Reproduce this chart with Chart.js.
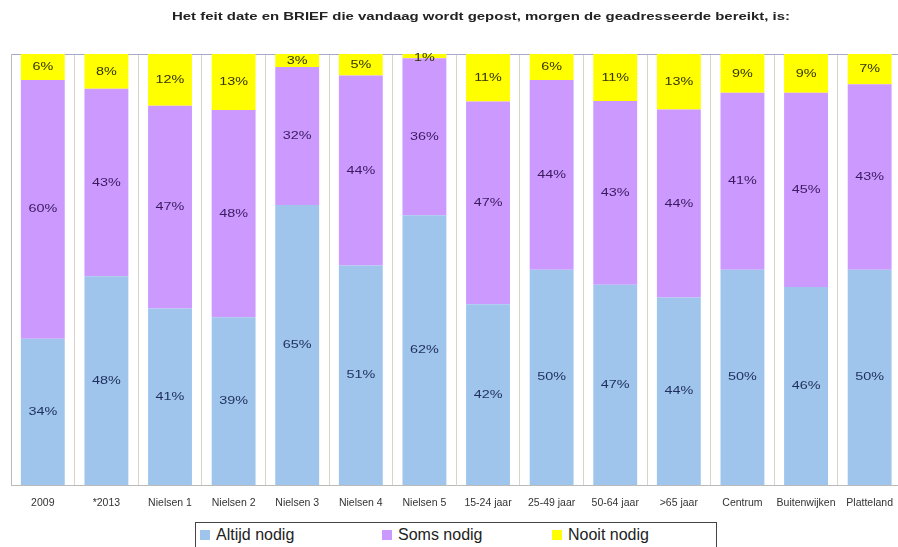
<!DOCTYPE html>
<html>
<head>
<meta charset="utf-8">
<script src="https://cdn.jsdelivr.net/npm/chart.js@4"></script>
<style>
  html, body { margin: 0; padding: 0; background: #fff; }
  #wrap { position: relative; width: 898px; height: 547px; overflow: hidden; }
  #grafiek { position: absolute; left: 0; top: 0; }
  #legenda {
    position: absolute; left: 195px; top: 522px; width: 522px; height: 30px;
    border: 1px solid #444; box-sizing: border-box; background: #fff;
    font-family: Arial, "Liberation Sans", sans-serif; font-size: 16px; color: #222;
  }
  .item { position: absolute; top: 3px; white-space: nowrap; }
  .blok { display: inline-block; width: 10px; height: 10px; margin-right: 6px; vertical-align: 0px; }
</style>
</head>
<body>
<div id="wrap">
  <canvas id="grafiek" width="904" height="520"></canvas>
  <div id="legenda"></div>
</div>
<script>
const titel = 'Het feit date en BRIEF die vandaag wordt gepost, morgen de geadresseerde bereikt, is:';

const categorieen = ['2009', '*2013', 'Nielsen 1', 'Nielsen 2', 'Nielsen 3', 'Nielsen 4', 'Nielsen 5',
  '15-24 jaar', '25-49 jaar', '50-64 jaar', '>65 jaar', 'Centrum', 'Buitenwijken', 'Platteland'];

const altijdNodig = [34, 48, 41, 39, 65, 51, 62, 42, 50, 47, 44, 50, 46, 50];
const somsNodig   = [60, 43, 47, 48, 32, 44, 36, 47, 44, 43, 44, 41, 45, 43];
const nooitNodig  = [6, 8, 12, 13, 3, 5, 1, 11, 6, 11, 13, 9, 9, 7];

const reeksNamen = ['Altijd nodig', 'Soms nodig', 'Nooit nodig'];
const kleuren = ['#9FC5EC', '#CC99FF', '#FFFF00'];
const labelKleuren = ['#1F2F5A', '#3B1A60', '#333300'];

// 100% gestapeld, zoals in Excel: elke kolom wordt naar 100 geschaald
const reeksen = [altijdNodig, somsNodig, nooitNodig];
const totalen = categorieen.map((c, i) => reeksen.reduce((s, r) => s + r[i], 0));

// legenda (met kader) onder de grafiek
const legXs = [4, 186, 356];
document.getElementById('legenda').innerHTML = reeksNamen.map((n, i) =>
  `<span class="item" style="left:${legXs[i]}px"><span class="blok" style="background:${kleuren[i]}"></span>${n}</span>`
).join('');

// het origineel is breed uitgerekt, dus tekst horizontaal schalen
function breedTekst(ctx, tekst, x, y, sx) {
  ctx.save();
  ctx.translate(x, y);
  ctx.scale(sx, 1);
  ctx.fillText(tekst, 0, 0);
  ctx.restore();
}

const titelPlugin = {
  id: 'titel',
  afterDraw(chart) {
    const ctx = chart.ctx;
    ctx.save();
    ctx.font = 'bold 11px Arial, "Liberation Sans", sans-serif';
    ctx.fillStyle = '#222';
    ctx.textAlign = 'center';
    ctx.textBaseline = 'middle';
    const w = ctx.measureText(titel).width;
    breedTekst(ctx, titel, 481, 17, 618 / w);
    ctx.restore();
  }
};

// percentages midden in elk segment
const labelPlugin = {
  id: 'waardes',
  afterDatasetsDraw(chart) {
    const ctx = chart.ctx;
    ctx.save();
    ctx.font = '11.5px Arial, "Liberation Sans", sans-serif';
    ctx.textAlign = 'center';
    ctx.textBaseline = 'middle';
    chart.data.datasets.forEach((ds, d) => {
      chart.getDatasetMeta(d).data.forEach((bar, i) => {
        const midden = (bar.y + bar.base) / 2;
        ctx.fillStyle = labelKleuren[d];
        breedTekst(ctx, reeksen[d][i] + '%', bar.x, Math.max(midden, chart.chartArea.top + 4), 1.25);
      });
    });
    ctx.restore();
  }
};

new Chart(document.getElementById('grafiek'), {
  type: 'bar',
  data: {
    labels: categorieen,
    datasets: reeksen.map((r, d) => ({
      label: reeksNamen[d],
      data: r.map((v, i) => v / totalen[i] * 100),
      backgroundColor: kleuren[d],
      borderWidth: 0,
      barPercentage: 0.69,
      categoryPercentage: 1
    }))
  },
  options: {
    responsive: false,
    animation: false,
    layout: { padding: { left: 11, right: 0, top: 54, bottom: 0 } },
    plugins: { legend: { display: false }, tooltip: { enabled: false }, title: { display: false } },
    scales: {
      x: {
        stacked: true,
        grid: { offset: true, color: '#D8D4C8', lineWidth: 1, drawTicks: false },
        border: { color: '#BBBBBB' },
        ticks: { color: '#333', font: { family: 'Arial, "Liberation Sans", sans-serif', size: 10.5 }, padding: 11, maxRotation: 0, autoSkip: false }
      },
      y: {
        stacked: true,
        min: 0, max: 100,
        ticks: { display: false, stepSize: 100 },
        grid: { color: ctx => ctx.tick && ctx.tick.value === 100 ? '#A4AAC8' : 'rgba(0,0,0,0)', drawTicks: false },
        border: { color: '#BBBBBB' }
      }
    }
  },
  plugins: [titelPlugin, labelPlugin]
});
</script>
</body>
</html>
